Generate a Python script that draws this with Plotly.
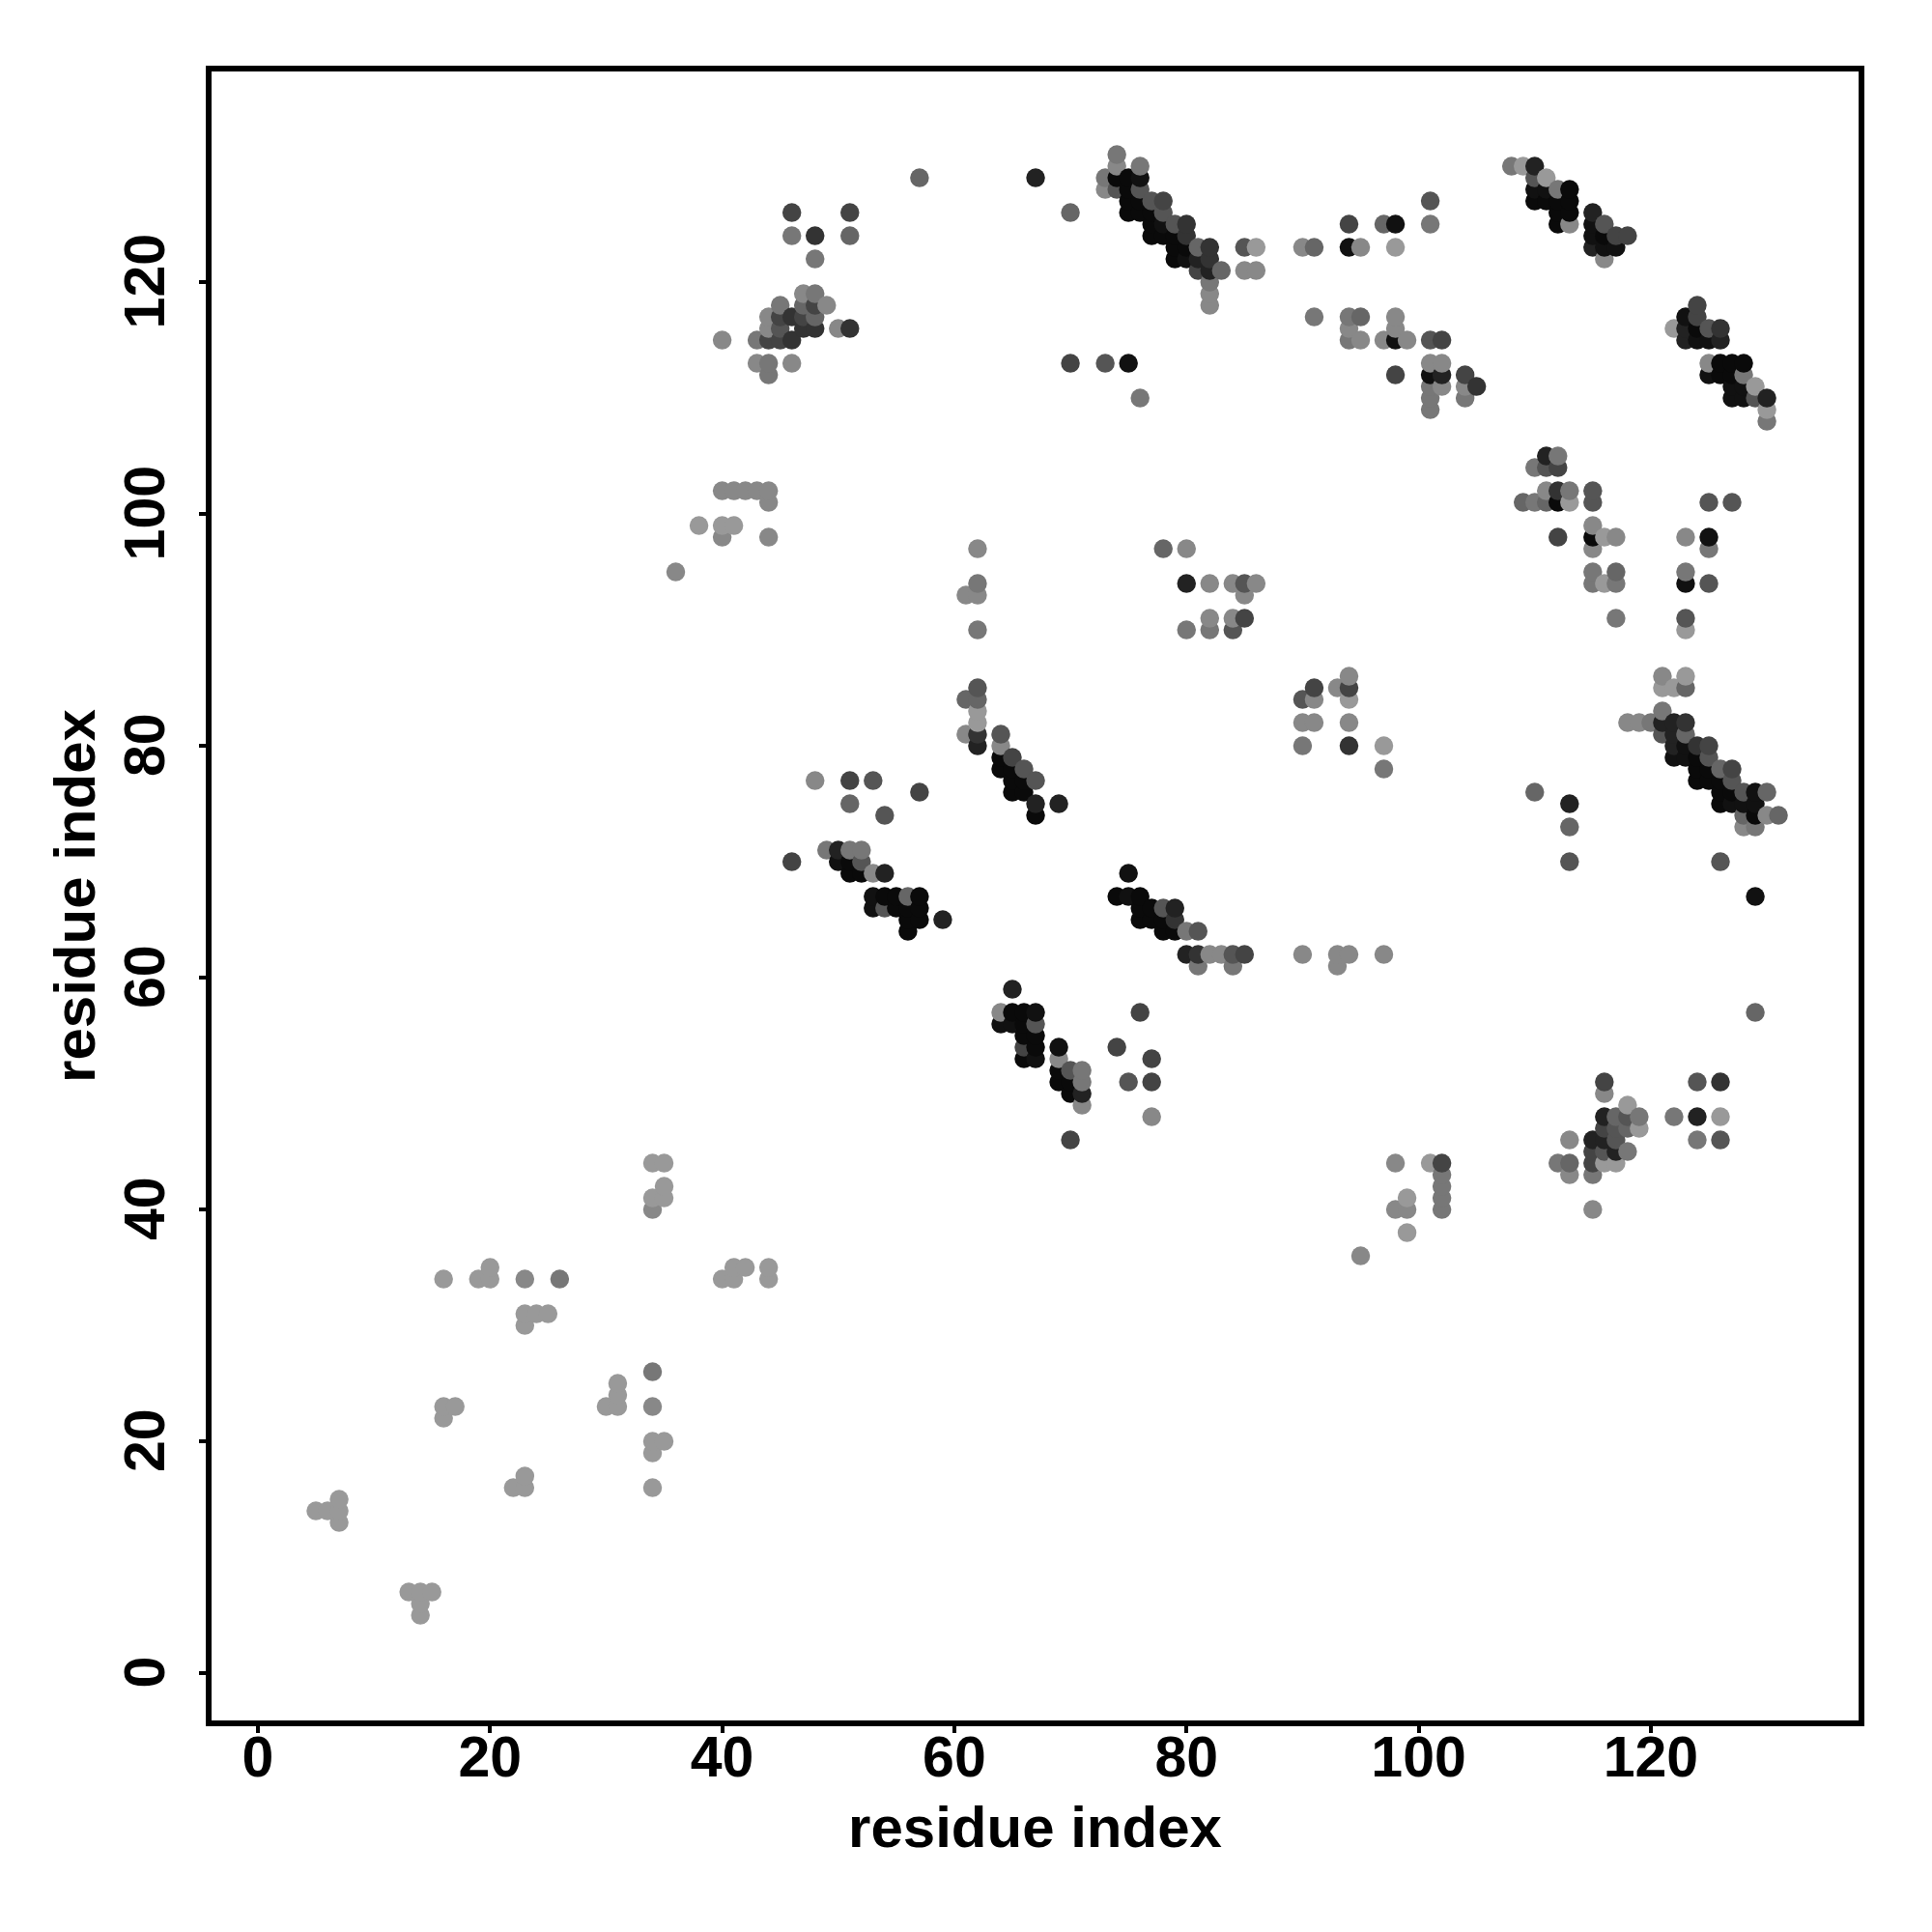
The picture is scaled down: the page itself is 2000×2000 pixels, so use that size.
import plotly.graph_objects as go
import numpy as np

# contacts (residue i, residue j) listed by grey level of the dot
shade_0a = [(64,79),(64,78),(65,78),(65,77),(65,76),(66,77),(66,76),(67,74),(75,129),(75,128),(75,127),(75,126),(74,129),
    (76,127),(76,126),(77,126),(77,125),(77,124),(78,124),(79,124),(79,123),(79,122),(80,123),(110,127),(111,127),(112,127),(112,126),(112,125),(113,128),(113,127),(113,126),
    (116,124),(124,116),(126,113),(126,112),(127,113),(127,112),(128,113),(112,101),(115,98),(51,70),(51,69),(52,69),(54,67),(55,67),(55,66),(56,66),(56,65),(56,64),(57,67),(57,66),(57,65),
    (74,67),(76,67),(76,66),(76,65),(77,66),(77,65),(78,65),(78,64),(79,64),(65,57),(66,57),(66,56),(66,55),(66,53),(67,55),(67,54),(69,52),(69,51),(70,51),(70,50),
    (124,79),(124,78),(124,77),(125,78),(125,77),(126,77),(126,76),(126,75),(127,76),(129,74)]
shade_11 = [(76,129),(78,125),(80,122),(94,123),(98,125),(98,115),(75,113),(101,112),(110,128),(111,128),(115,125),(115,124),(116,123),(117,123),(123,117),(124,115),(125,115),(125,112),
    (127,111),(127,110),(128,111),(128,110),(123,94),(125,98),(50,70),(53,67),(53,66),(75,69),(75,67),(64,56),(65,56),(67,57),(67,53),(69,54),(129,67),(122,79),(123,80),(123,79),(127,75),(128,75),(129,76),(129,75)]
shade_22 = [(67,129),(81,122),(82,121),(102,112),(110,130),(115,126),(115,123),(123,116),(123,115),(126,115),(130,110),(111,105),(80,94),(62,80),(67,75),(69,75),(50,71),(54,69),(59,65),(79,66),
    (80,62),(65,59),(71,50),(115,46),(116,48),(116,46),(117,45),(124,48),(113,75),(121,82),(122,82),(122,81),(122,80)]
shade_33 = [(48,124),(46,115),(46,117),(82,123),(80,125),(80,124),(82,122),(105,111),(48,116),(47,116),(51,116),(126,116),(62,81),(112,102),(94,80),(79,65),(81,62),(126,51),(123,82),(124,80)]
shade_44 = [(44,115),(45,117),(45,115),(47,117),(48,118),(46,126),(51,126),(78,127),(81,121),(70,113),(94,125),(98,112),(102,115),(104,112),(117,124),(118,124),(124,118),(124,117),
    (112,104),(112,98),(85,91),(51,77),(57,76),(46,70),(65,79),(91,85),(94,85),(66,54),(70,46),(74,54),(76,57),(77,53),(77,51),(85,62),(116,51),(115,45),(115,44),(116,47),(125,80),(127,78),(102,44)]
shade_55 = [(45,116),(74,128),(76,128),(77,127),(78,126),(79,125),(73,113),(85,123),(101,127),(101,115),(110,129),(116,125),(125,116),(129,110),(111,104),(115,102),(115,101),(125,101),(127,101),(125,94),(123,91),
    (85,94),(84,90),(53,77),(54,74),(64,81),(62,85),(66,78),(67,77),(90,84),(52,70),(54,66),(78,66),(81,64),(84,62),(67,56),(70,52),(75,51),(116,45),(117,47),(117,46),(118,48),(124,51),(126,46),(126,70),(113,70),(121,81),(125,79),(127,77),(128,76)]
shade_66 = [(47,118),(48,117),(51,124),(57,129),(70,126),(91,123),(95,117),(97,125),(81,123),(83,121),(109,101),(111,101),(117,95),(78,97),(61,84),(62,84),(56,67),(51,75),(123,85),(123,81),(126,78),(128,74),(130,76),(131,74),(113,44),(117,48),(118,47),(129,57),(110,76),(113,73)]
shade_77 = [(43,115),(44,113),(44,112),(45,118),(48,119),(46,124),(48,122),(73,129),(74,131),(76,130),(82,120),(91,117),(94,117),(94,115),(101,125),(101,111),(101,110),(101,109),(104,110),(76,110),(108,130),(112,128),(128,112),(130,108),(110,104),(112,105),(113,102),(110,101),(115,95),(115,94),(117,94),(117,91),(123,95),(125,97),
    (62,94),(62,90),(80,90),(82,90),(90,80),(97,78),(81,61),(84,61),(102,43),(102,42),(102,41),(102,40),(71,52),(71,51),(120,82),(121,83),(129,73),(112,44),(115,43),(118,45),(119,48),(122,48),(124,46),(26,34),(34,26),(49,71),(51,71),(52,71),(80,64)]
shade_88 = [(43,113),(44,117),(44,116),(47,119),(49,118),(50,116),(46,113),(73,128),(74,130),(82,119),(82,118),(85,121),(86,121),(90,123),(95,123),(94,116),(95,115),(97,115),(98,116),(98,117),(99,115),(101,113),(102,113),(102,111),(104,111),(116,122),(113,125),
    (125,113),(111,102),(115,99),(115,97),(117,98),(123,98),(62,97),(61,93),(62,93),(80,97),(82,94),(82,91),(84,94),(86,94),(85,93),(84,91),(61,81),(64,80),(48,77),(53,69),(90,82),(91,84),(91,82),(93,85),(94,86),(94,82),(90,62),(93,62),(93,61),(94,62),(97,62),(82,62),(83,62),
    (64,57),(69,53),(71,49),(77,48),(95,36),(98,44),(98,40),(99,40),(113,46),(113,43),(115,40),(116,50),(118,82),(119,82),(121,86),(128,73),(130,74),(23,34),(34,23),(44,102),(43,102),(42,102),(41,102),(40,102),(40,115),(44,101),(44,98),(34,40),(36,95),(40,98)]
shade_99 = [(86,123),(98,123),(109,130),(111,129),(122,116),(129,111),(130,109),(113,101),(116,94),(116,98),(123,90),(97,80),(94,84),(62,83),(62,82),(121,85),(122,85),(123,86),(99,41),(99,38),(101,44),(116,44),(117,44),(118,49),(119,47),(126,48),
    (5,14),(6,14),(7,13),(7,14),(7,15),(13,7),(14,7),(15,7),(14,6),(14,5),(16,22),(16,23),(17,23),(16,34),(19,34),(20,34),(20,35),(22,16),(23,16),(23,17),(23,30),(23,31),(24,31),(25,31),(30,23),(31,23),(31,24),(31,25),
    (34,16),(34,19),(34,20),(35,20),(34,41),(35,41),(35,42),(34,44),(35,44),(38,99),(40,99),(41,99),(40,34),(41,34),(41,35),(42,35),(44,34),(44,35)]

shade_levels = {0x0a: shade_0a, 0x11: shade_11, 0x22: shade_22, 0x33: shade_33, 0x44: shade_44,
                0x55: shade_55, 0x66: shade_66, 0x77: shade_77, 0x88: shade_88, 0x99: shade_99}
tick_values = [0, 20, 40, 60, 80, 100, 120]
axis_title = "residue index"

rows = sorted((p[0], p[1], g) for g, pts in shade_levels.items() for p in pts)
res_x = [r[0] for r in rows]
res_y = [r[1] for r in rows]
colors = [f"rgb({r[2]},{r[2]},{r[2]})" for r in rows]

FONT = "Liberation Sans"
fig = go.Figure(go.Scatter(x=res_x, y=res_y, mode="markers", cliponaxis=True,
                           marker=dict(size=19.5, color=colors, line=dict(width=0)), hoverinfo="skip"))
axis = dict(tickmode="array", tickvals=tick_values, ticks="outside", ticklen=7, tickwidth=4, tickcolor="black",
            showline=True, linecolor="black", linewidth=6, mirror=True, showgrid=False, zeroline=False,
            tickfont=dict(family=FONT, size=59, color="black", weight="bold"))
fig.update_layout(width=2000, height=2000, margin=dict(l=211, r=84, t=66, b=227, pad=0), autosize=False,
                  paper_bgcolor="white", plot_bgcolor="white", showlegend=False)
fig.update_xaxes(**axis, range=[-3.99, 137.9], ticklabelstandoff=-26,
                 title=dict(text=axis_title, standoff=21, font=dict(family=FONT, size=60, color="black", weight="bold")))
fig.update_yaxes(**axis, range=[-4.08, 138.17], tickangle=-90, ticklabelstandoff=12, ticklabelshift=8,
                 title=dict(text=axis_title, standoff=1, font=dict(family=FONT, size=60, color="black", weight="bold")))
fig.write_html("out.html")
